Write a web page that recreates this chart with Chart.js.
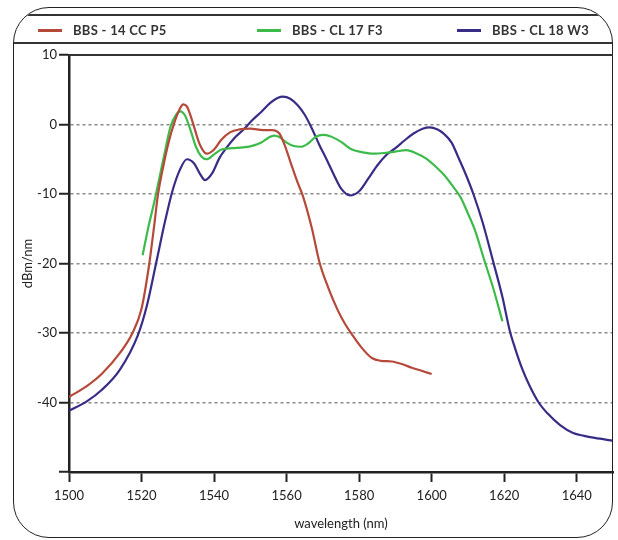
<!DOCTYPE html>
<html>
<head>
<meta charset="utf-8">
<script src="https://cdn.jsdelivr.net/npm/chart.js@4.4.0/dist/chart.umd.min.js"></script>
<style>
  html, body { margin: 0; padding: 0; background: #fff; }
  #wrap { position: relative; width: 618px; height: 540px; overflow: hidden; }
  #chart { position: absolute; left: 0; top: 0; }
  .frame {
    position: absolute; left: 13px; top: 7px; width: 600px; height: 531px;
    border: 1.5px solid #222; border-radius: 36px; box-sizing: border-box;
    overflow: hidden; pointer-events: none;
  }
  .hline { position: absolute; left: 0; right: 0; height: 2px; background: #333; }
  .plot-top { position: absolute; left: 69px; top: 54px; width: 544px; height: 2px; background: #333; }
  .legend-item {
    position: absolute; top: 22px; height: 16px; display: flex; align-items: center;
    font: bold 13px Lato, sans-serif; color: #333; letter-spacing: 0.3px; white-space: nowrap;
  }
  .legend-item span.swatch { display: inline-block; width: 24px; height: 3px; margin-right: 11px; }
</style>
</head>
<body>
<div id="wrap">
  <canvas id="chart" width="618" height="540"></canvas>
  <div class="frame">
    <div class="hline" style="top:6px"></div>
    <div class="hline" style="top:34px"></div>
  </div>
  <div class="plot-top"></div>
  <div id="legend"></div>
</div>
<script>
// Series: wavelength (nm) and power density (dBm/nm)
const seriesNames = ['BBS - 14 CC P5', 'BBS - CL 17 F3', 'BBS - CL 18 W3'];
const seriesColors = ['#b5493a', '#3dbb4a', '#372d86'];

const wavelengthRed = [1500, 1505, 1509, 1514, 1517.5, 1520, 1522, 1523.5, 1524.5, 1526, 1527.5, 1529, 1530.5, 1531.5, 1532.5, 1534, 1536, 1538, 1540, 1542, 1544.5, 1547, 1550, 1553.5, 1556, 1558, 1559.5, 1561, 1563, 1564.5, 1567, 1569, 1571.5, 1574, 1576, 1578, 1580.5, 1583.5, 1586, 1589, 1592, 1594.5, 1597, 1600];
const powerRed = [-39.2, -37.6, -35.9, -32.9, -30.0, -26.5, -20.5, -14.5, -10.2, -6.0, -2.5, 0.2, 2.2, 2.9, 2.6, 0.5, -2.8, -4.2, -3.6, -2.2, -1.1, -0.7, -0.6, -0.8, -0.8, -1.3, -3.0, -5.3, -8.3, -10.3, -15.0, -19.7, -23.5, -26.6, -28.6, -30.2, -32.0, -33.6, -34.0, -34.1, -34.5, -35.0, -35.4, -35.9];

const wavelengthGreen = [1520.3, 1522, 1523.5, 1525, 1526.5, 1528, 1529.5, 1530.7, 1532, 1533.5, 1535, 1536.5, 1538, 1540, 1542, 1545, 1548, 1551, 1553, 1555, 1556.5, 1558, 1560, 1562, 1564, 1566, 1568, 1570, 1572, 1575, 1578, 1581, 1584, 1587, 1590, 1593, 1596, 1598.5, 1601, 1603.5, 1606, 1608, 1610, 1612, 1614.5, 1617, 1619.5];
const powerGreen = [-18.8, -14.5, -11.2, -7.5, -3.8, -0.3, 1.4, 1.9, 1.3, -0.8, -3.2, -4.6, -5.0, -4.3, -3.6, -3.4, -3.3, -3.0, -2.6, -1.9, -1.6, -1.8, -2.6, -3.1, -3.2, -2.7, -1.8, -1.5, -1.7, -2.5, -3.6, -4.0, -4.2, -4.1, -3.9, -3.7, -4.2, -4.9, -6.0, -7.3, -9.0, -10.5, -12.8, -15.3, -19.5, -23.6, -28.3];

const wavelengthBlue = [1500, 1505, 1509, 1514, 1519, 1521.5, 1524, 1526.5, 1528.5, 1530.5, 1532.5, 1534.5, 1536, 1537.5, 1539.5, 1541.5, 1543.5, 1545.5, 1548, 1550.5, 1553, 1555.5, 1557.5, 1559, 1561, 1563, 1565, 1567, 1569, 1571, 1573, 1575, 1577.5, 1580, 1582.5, 1585, 1587.5, 1590, 1592.5, 1595, 1597.5, 1599.5, 1601.5, 1603.5, 1605.5, 1607.5, 1609.5, 1611.5, 1614, 1617, 1619.5, 1621.5, 1623, 1625, 1627, 1629.5, 1632, 1635.5, 1639, 1642, 1645, 1650];
const powerBlue = [-41.2, -39.8, -38.2, -35.3, -30.3, -26.0, -20.0, -13.9, -9.6, -6.6, -5.0, -5.6, -7.0, -8.0, -7.0, -4.8, -3.3, -2.0, -0.8, 0.6, 1.8, 3.1, 3.8, 4.0, 3.7, 2.8, 1.4, -0.6, -2.9, -5.0, -7.2, -9.2, -10.2, -9.6, -7.8, -5.9, -4.4, -3.4, -2.3, -1.3, -0.6, -0.4, -0.7, -1.4, -2.6, -4.9, -7.3, -10.0, -14.0, -19.8, -24.8, -29.6, -32.2, -35.2, -37.6, -40.0, -41.6, -43.3, -44.4, -44.8, -45.1, -45.5];

// Axis ticks
const xTicks = [1500, 1520, 1540, 1560, 1580, 1600, 1620, 1640];
const yTicks = [10, 0, -10, -20, -30, -40, -50];
const yLabelled = [10, 0, -10, -20, -30, -40];

const legendLeft = [38, 257, 457];

function toPoints(xs, ys) {
    return xs.map((x, i) => ({ x: x, y: ys[i] }));
}

const seriesData = [
    toPoints(wavelengthRed, powerRed),
    toPoints(wavelengthGreen, powerGreen),
    toPoints(wavelengthBlue, powerBlue)
];

const tickFont = { family: 'Lato, sans-serif', size: 13 };

const ctx = document.getElementById('chart').getContext('2d');
const chart = new Chart(ctx, {
    type: 'line',
    data: {
        datasets: seriesNames.map((name, i) => ({
            label: name,
            data: seriesData[i],
            borderColor: seriesColors[i],
            backgroundColor: seriesColors[i],
            borderWidth: 2.2,
            pointRadius: 0,
            cubicInterpolationMode: 'monotone',
            fill: false
        }))
    },
    options: {
        responsive: false,
        animation: false,
        layout: { padding: { left: 0, top: 55, right: 5, bottom: 0 } },
        plugins: {
            legend: { display: false },
            tooltip: { enabled: false }
        },
        scales: {
            x: {
                type: 'linear',
                min: 1500,
                max: 1650,
                afterBuildTicks: scale => { scale.ticks = xTicks.map(v => ({ value: v })); },
                afterFit: scale => { scale.height = 68; },
                ticks: {
                    color: '#222',
                    font: tickFont,
                    padding: 6,
                    maxRotation: 0,
                    callback: v => String(v)
                },
                grid: {
                    drawOnChartArea: false,
                    drawTicks: true,
                    tickLength: 10,
                    tickColor: '#222',
                    tickWidth: 2
                },
                border: { color: '#222', width: 2.5 },
                title: {
                    display: true,
                    text: 'wavelength (nm)',
                    color: '#222',
                    font: { family: 'Lato, sans-serif', size: 13 },
                    padding: { top: 0, bottom: 8 }
                }
            },
            y: {
                min: -50,
                max: 10,
                afterBuildTicks: scale => { scale.ticks = yTicks.map(v => ({ value: v })); },
                afterFit: scale => { scale.width = 69; },
                ticks: {
                    color: '#222',
                    font: tickFont,
                    padding: 2,
                    callback: v => yLabelled.includes(v) ? String(v) : ''
                },
                grid: {
                    color: c => (c.tick && yLabelled.includes(c.tick.value) && c.tick.value !== 10) ? '#8a8a8a' : 'rgba(0,0,0,0)',
                    lineWidth: 1.5,
                    tickLength: 10,
                    tickColor: '#222',
                    tickWidth: 2
                },
                border: { color: '#222', width: 2.5, dash: [3, 3] },
                title: {
                    display: true,
                    text: 'dBm/nm',
                    color: '#222',
                    font: { family: 'Lato, sans-serif', size: 13 },
                    padding: { top: 20, bottom: 0 }
                }
            }
        }
    }
});

// Legend strip built from the datasets
const legendEl = document.getElementById('legend');
chart.data.datasets.forEach((ds, i) => {
    const item = document.createElement('div');
    item.className = 'legend-item';
    item.style.left = legendLeft[i] + 'px';
    const sw = document.createElement('span');
    sw.className = 'swatch';
    sw.style.background = ds.borderColor;
    item.appendChild(sw);
    item.appendChild(document.createTextNode(ds.label));
    legendEl.appendChild(item);
});
</script>
</body>
</html>
